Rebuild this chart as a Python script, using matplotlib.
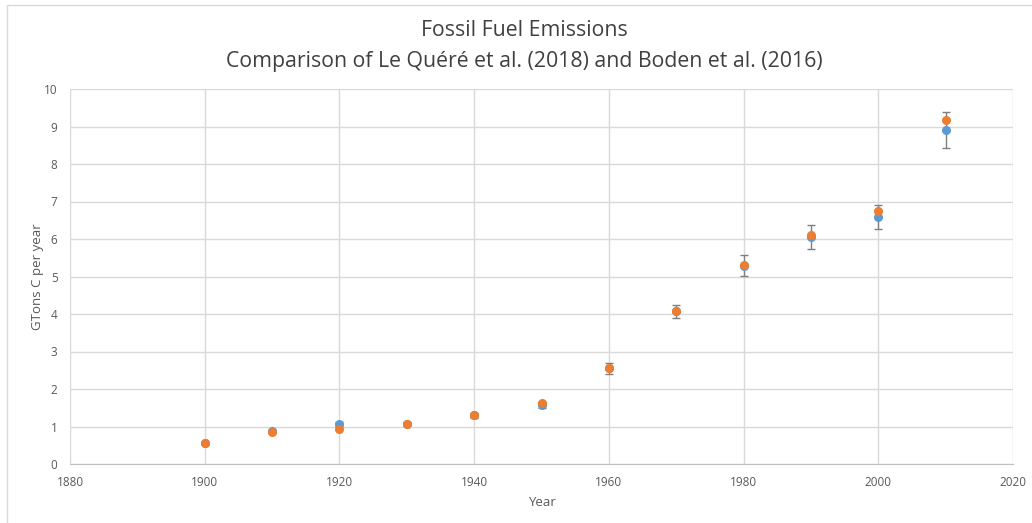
import matplotlib.pyplot as plt
from matplotlib.patches import Rectangle

plt.rcParams['font.family'] = ['Open Sans', 'DejaVu Sans']

years = [1900, 1910, 1920, 1930, 1940, 1950, 1960, 1970, 1980, 1990, 2000, 2010]
# Boden et al. (2016), with error bars
boden = [0.56, 0.88, 1.06, 1.08, 1.30, 1.58, 2.55, 4.07, 5.29, 6.06, 6.59, 8.91]
boden_err = [0.03, 0.04, 0.05, 0.05, 0.06, 0.08, 0.14, 0.18, 0.27, 0.315, 0.33, 0.475]
# Le Quere et al. (2018)
lequere = [0.56, 0.845, 0.93, 1.08, 1.30, 1.63, 2.57, 4.07, 5.32, 6.12, 6.76, 9.17]

blue = '#5B9BD5'
orange = '#ED7D31'
grid_col = '#D9D9D9'
text_col = '#595959'

fig = plt.figure(figsize=(10.32, 5.23), dpi=100)
ax = fig.add_axes([70 / 1032, 1 - 464 / 523, (1013 - 70) / 1032, (464 - 89) / 523])

ax.errorbar(years, boden, yerr=boden_err, fmt='o', color=blue, ms=5.5,
            ecolor='#7F7F7F', elinewidth=1, capsize=3, capthick=1, zorder=3)
ax.plot(years, lequere, 'o', color=orange, ms=5.5, zorder=4)

ax.set_xlim(1880, 2020)
ax.set_ylim(0, 10)
ax.set_xticks(range(1880, 2021, 20))
ax.set_yticks(range(0, 11))
ax.grid(True, color=grid_col, linewidth=1)
ax.set_axisbelow(True)
for s in ['top', 'right', 'left']:
    ax.spines[s].set_visible(False)
ax.spines['bottom'].set_color('#BFBFBF')
ax.tick_params(length=0, labelsize=8.5, labelcolor=text_col, pad=9)

ax.set_xlabel('Year', fontsize=9.5, color=text_col, labelpad=5)
ax.set_ylabel('GTons C per year', fontsize=9.5, color=text_col, labelpad=0)

fig.text(524 / 1032, 1 - 31 / 523, 'Fossil Fuel Emissions', ha='center', va='center',
         fontsize=15.3, color='#404040')
fig.text(524 / 1032, 1 - 61 / 523, 'Comparison of Le Quéré et al. (2018) and Boden et al. (2016)',
         ha='center', va='center', fontsize=15.3, color='#404040')

fig.patches.append(Rectangle((7 / 1032, -0.1), 1.2, 1.1 - 5 / 523, transform=fig.transFigure,
                             fill=False, edgecolor='#D9D9D9', linewidth=1))

fig.savefig('out.png', dpi=100)
